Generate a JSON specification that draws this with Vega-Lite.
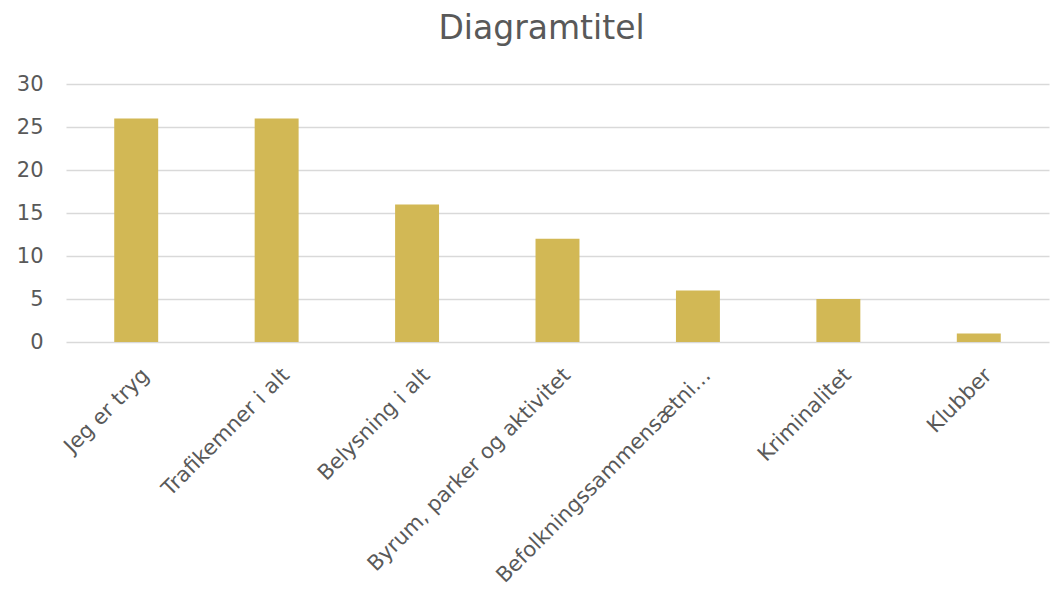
{
  "$schema": "https://vega.github.io/schema/vega-lite/v6.json",
  "width": 983,
  "height": 258,
  "padding": {"left": 16, "top": 13, "right": 1, "bottom": 0},
  "background": "white",
  "title": {
    "text": "Diagramtitel",
    "font": "DejaVu Sans",
    "fontSize": 33,
    "fontWeight": "normal",
    "color": "#595959",
    "anchor": "middle",
    "offset": 27,
    "dx": -16
  },
  "data": {
    "values": [
      {"kategori": "Jeg er tryg", "antal": 26},
      {"kategori": "Trafikemner i alt", "antal": 26},
      {"kategori": "Belysning i alt", "antal": 16},
      {"kategori": "Byrum, parker og aktivitet", "antal": 12},
      {"kategori": "Befolkningssammensætning", "antal": 6},
      {"kategori": "Kriminalitet", "antal": 5},
      {"kategori": "Klubber", "antal": 1}
    ]
  },
  "mark": {"type": "bar", "color": "#D2B855"},
  "encoding": {
    "x": {
      "field": "kategori",
      "type": "nominal",
      "sort": null,
      "scale": {"paddingInner": 0.687, "paddingOuter": 0.3435},
      "axis": {
        "title": null,
        "labelAngle": -45,
        "labelFont": "DejaVu Sans",
        "labelFontSize": 21,
        "labelColor": "#595959",
        "labelPadding": 22,
        "labelOffset": 2,
        "labelLimit": 400,
        "labelExpr": "datum.label == 'Befolkningssammensætning' ? 'Befolkningssammensætni…' : datum.label",
        "ticks": false,
        "domain": false,
        "grid": false
      }
    },
    "y": {
      "field": "antal",
      "type": "quantitative",
      "scale": {"domain": [0, 30]},
      "axis": {
        "title": null,
        "values": [0, 5, 10, 15, 20, 25, 30],
        "labelFont": "DejaVu Sans",
        "labelFontSize": 21,
        "labelColor": "#595959",
        "labelPadding": 23,
        "ticks": false,
        "domain": false,
        "gridColor": "#D9D9D9",
        "gridWidth": 1.5
      }
    }
  },
  "config": {"view": {"stroke": null}}
}
